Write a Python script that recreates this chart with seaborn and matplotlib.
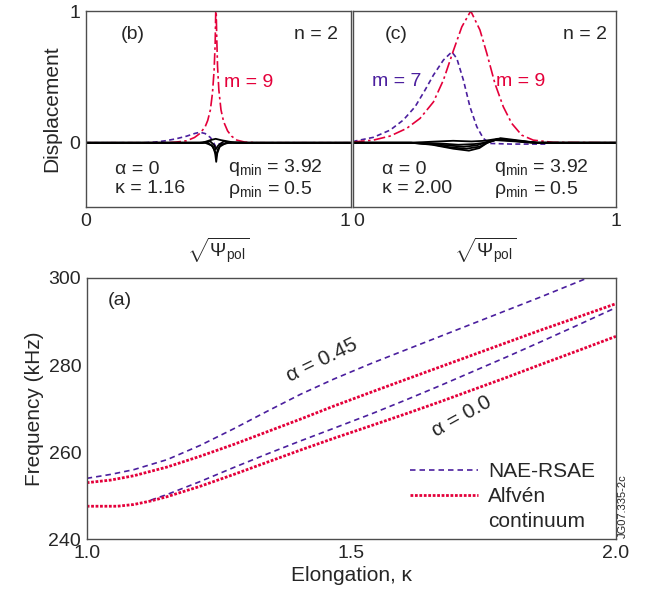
import matplotlib
matplotlib.use("Agg")
import matplotlib.pyplot as plt
import seaborn as sns
import pandas as pd
from matplotlib.lines import Line2D

# ---------------- data ----------------
# Panel (b): kappa = 1.16
b_m9_x = [0.0, 0.30, 0.34, 0.38, 0.41, 0.43, 0.45, 0.46, 0.47, 0.478, 0.484, 0.488, 0.491,
          0.494, 0.497, 0.502, 0.51, 0.52, 0.535, 0.55, 0.57, 0.60, 0.65, 1.0]
b_m9_y = [0.0, 0.0, 0.005, 0.015, 0.04, 0.07, 0.12, 0.17, 0.25, 0.38, 0.55, 0.75, 1.08,
          0.8, 0.58, 0.4, 0.25, 0.16, 0.09, 0.05, 0.02, 0.005, 0.0, 0.0]
b_m7_x = [0.0, 0.22, 0.26, 0.30, 0.34, 0.38, 0.41, 0.43, 0.45, 0.47, 0.48, 0.49, 0.50, 0.52, 1.0]
b_m7_y = [0.0, 0.0, 0.005, 0.015, 0.03, 0.05, 0.07, 0.08, 0.07, 0.04, 0.01, -0.03, -0.01, 0.0, 0.0]
b_k1_x = [0.0, 0.46, 0.48, 0.488, 0.492, 0.496, 0.505, 0.53, 1.0]
b_k1_y = [0.0, 0.0, -0.03, -0.08, -0.145, -0.08, -0.03, 0.0, 0.0]
b_k2_x = [0.0, 0.45, 0.475, 0.487, 0.492, 0.498, 0.51, 0.54, 1.0]
b_k2_y = [0.0, 0.0, -0.02, -0.06, -0.10, -0.05, -0.015, 0.0, 0.0]
b_k3_x = [0.0, 0.44, 0.47, 0.49, 0.51, 0.55, 0.60, 1.0]
b_k3_y = [0.0, 0.0, 0.02, 0.03, 0.02, 0.005, 0.0, 0.0]
b_k4_x = [0.0, 0.43, 0.47, 0.485, 0.49, 0.50, 0.52, 0.56, 1.0]
b_k4_y = [0.0, 0.0, 0.01, -0.02, -0.05, -0.02, 0.01, 0.0, 0.0]

# Panel (c): kappa = 2.00
c_m9_x = [0.0, 0.006, 0.076, 0.14, 0.203, 0.254, 0.305, 0.343, 0.381, 0.413, 0.447,
          0.482, 0.508, 0.539, 0.571, 0.603, 0.641, 0.685, 0.761, 1.0]
c_m9_y = [0.0, 0.007, 0.02, 0.051, 0.109, 0.185, 0.31, 0.476, 0.70, 0.88, 1.0,
          0.856, 0.68, 0.45, 0.273, 0.147, 0.058, 0.02, 0.003, 0.0]
c_m7_x = [0.0, 0.006, 0.076, 0.14, 0.19, 0.235, 0.273, 0.305, 0.343, 0.375, 0.394,
          0.419, 0.444, 0.47, 0.495, 0.52, 0.60, 0.742]
c_m7_y = [0.0, 0.013, 0.041, 0.096, 0.172, 0.273, 0.40, 0.514, 0.628, 0.69, 0.64,
          0.476, 0.273, 0.122, 0.033, -0.005, -0.01, -0.01]
c_k1_x = [0.0, 0.22, 0.30, 0.38, 0.44, 0.48, 0.51, 0.56, 0.62, 0.70, 1.0]
c_k1_y = [0.0, 0.0, -0.015, -0.045, -0.06, -0.04, 0.0, 0.035, 0.02, 0.0, 0.0]
c_k2_x = [0.0, 0.22, 0.30, 0.37, 0.43, 0.48, 0.51, 0.55, 0.62, 0.70, 1.0]
c_k2_y = [0.0, 0.0, -0.012, -0.035, -0.045, -0.03, 0.0, 0.03, 0.015, 0.0, 0.0]
c_k3_x = [0.0, 0.22, 0.30, 0.36, 0.42, 0.47, 0.50, 0.55, 0.62, 0.70, 1.0]
c_k3_y = [0.0, 0.0, -0.008, -0.02, -0.03, -0.02, 0.0, 0.025, 0.012, 0.0, 0.0]
c_k4_x = [0.0, 0.22, 0.30, 0.38, 0.45, 0.50, 0.55, 0.62, 0.70, 1.0]
c_k4_y = [0.0, 0.0, 0.008, 0.015, 0.01, 0.015, 0.03, 0.015, 0.0, 0.0]
c_k5_x = [0.0, 0.25, 0.35, 0.40, 0.46, 0.50, 0.54, 0.62, 0.68, 1.0]
c_k5_y = [0.0, 0.0, -0.008, -0.015, -0.01, 0.0, 0.02, 0.01, 0.0, 0.0]

# Panel (a): frequency (kHz) vs elongation kappa
kap_a45_nae = [1.0, 1.045, 1.089, 1.152, 1.215, 1.278, 1.341, 1.404, 1.467,
               1.540, 1.605, 1.668, 1.731, 1.794, 1.857, 1.932, 2.0]
frq_a45_nae = [254.0, 254.9, 256.0, 258.3, 261.6, 265.4, 269.4, 273.3, 276.8,
               280.5, 283.6, 286.6, 289.6, 292.6, 295.6, 299.3, 302.7]
kap_a45_alf = [1.0, 1.045, 1.089, 1.152, 1.215, 1.278, 1.341, 1.404, 1.467,
               1.540, 1.605, 1.668, 1.731, 1.794, 1.857, 1.930, 2.0]
frq_a45_alf = [253.0, 253.6, 254.6, 256.6, 259.1, 261.8, 264.7, 267.6, 270.6,
               273.9, 276.8, 279.6, 282.4, 285.2, 288.0, 291.1, 294.1]
kap_a00_nae = [1.121, 1.152, 1.215, 1.278, 1.341, 1.404, 1.467, 1.540, 1.605,
               1.668, 1.731, 1.794, 1.857, 1.930, 2.0]
frq_a00_nae = [249.0, 250.3, 253.3, 256.5, 259.6, 262.6, 265.5, 268.9, 272.1,
               275.3, 278.6, 281.9, 285.3, 289.3, 293.2]
kap_a00_alf = [1.0, 1.058, 1.089, 1.121, 1.152, 1.215, 1.278, 1.341, 1.404, 1.467,
               1.540, 1.605, 1.668, 1.731, 1.794, 1.857, 1.930, 2.0]
frq_a00_alf = [247.6, 247.6, 248.0, 248.8, 249.8, 252.2, 254.9, 257.7, 260.5, 263.2,
               266.2, 268.9, 271.6, 274.4, 277.2, 280.1, 283.4, 286.6]

RED = "#e4003a"
BLUE = "#4b1f9e"
SPINE = "#4d4d4d"

# ---------------- style ----------------
sns.set_theme(style="white")
plt.rcParams["font.family"] = ["Liberation Sans", "DejaVu Sans"]
plt.rcParams["mathtext.fontset"] = "custom"
plt.rcParams["mathtext.rm"] = "Liberation Sans"
plt.rcParams["mathtext.it"] = "Liberation Sans:italic"
plt.rcParams["mathtext.sf"] = "Liberation Sans"
FS = 14
FSA = 15

fig = plt.figure(figsize=(6.47, 5.93), dpi=100)
ax_b = fig.add_axes([0.1329, 0.6504, 0.4091, 0.331])
ax_c = fig.add_axes([0.5461, 0.6504, 0.4060, 0.331])
ax_a = fig.add_axes([0.1340, 0.0905, 0.8180, 0.4407])


def line(ax, x, y, **kw):
    df = pd.DataFrame({"x": x, "y": y})
    sns.lineplot(data=df, x="x", y="y", ax=ax, estimator=None, sort=False, **kw)


# ---- panel (b) ----
line(ax_b, b_m7_x, b_m7_y, color=BLUE, lw=1.2, linestyle=(0, (3, 2)))
line(ax_b, b_m9_x, b_m9_y, color=RED, lw=1.2, linestyle=(0, (7, 2, 1.5, 2)))
for xx, yy in [(b_k1_x, b_k1_y), (b_k2_x, b_k2_y), (b_k3_x, b_k3_y), (b_k4_x, b_k4_y)]:
    line(ax_b, xx, yy, color="black", lw=1.3)

# ---- panel (c) ----
line(ax_c, c_m7_x, c_m7_y, color=BLUE, lw=1.2, linestyle=(0, (3, 2)))
line(ax_c, c_m9_x, c_m9_y, color=RED, lw=1.2, linestyle=(0, (7, 2, 1.5, 2)))
for xx, yy in [(c_k1_x, c_k1_y), (c_k2_x, c_k2_y), (c_k3_x, c_k3_y),
               (c_k4_x, c_k4_y), (c_k5_x, c_k5_y)]:
    line(ax_c, xx, yy, color="black", lw=1.3)

for ax in (ax_b, ax_c):
    ax.set_xlim(0, 1)
    ax.set_ylim(-0.49, 1.0)
    ax.set_xticks([0, 1])
    ax.set_yticks([0, 1])
    ax.tick_params(length=0, labelsize=FS, pad=4)
    ax.set_xlabel(r"$\sqrt{\Psi_{\mathrm{pol}}}$", fontsize=FS, labelpad=4)
    ax.set_ylabel("")
    for s in ax.spines.values():
        s.set_color(SPINE)
        s.set_linewidth(1.0)

ax_b.set_ylabel("Displacement", fontsize=FSA, labelpad=6)
ax_b.set_xticklabels(["0", "1"])
ax_b.get_xticklabels()[1].set_horizontalalignment("right")
ax_c.set_yticklabels([])
ax_c.set_xticklabels(["0", "1"])
ax_c.get_xticklabels()[0].set_horizontalalignment("left")

# annotations (b)
ax_b.text(0.13, 0.878, "(b)", transform=ax_b.transAxes, fontsize=FS, ha="left", va="center")
ax_b.text(0.952, 0.878, "n = 2", transform=ax_b.transAxes, fontsize=FS, ha="right", va="center")
ax_b.text(0.52, 0.46, "m = 9", fontsize=FS, color=RED, ha="left", va="center")
ax_b.text(0.11, 0.195, "α = 0", transform=ax_b.transAxes, fontsize=FS, ha="left", va="center")
ax_b.text(0.11, 0.098, "κ = 1.16", transform=ax_b.transAxes, fontsize=FS, ha="left", va="center")
ax_b.text(0.536, 0.205, r"$\mathregular{q_{min}}$ = 3.92", transform=ax_b.transAxes,
          fontsize=FS, ha="left", va="center")
ax_b.text(0.536, 0.093, r"$\mathregular{\rho_{min}}$ = 0.5", transform=ax_b.transAxes,
          fontsize=FS, ha="left", va="center")

# annotations (c)
ax_c.text(0.12, 0.878, "(c)", transform=ax_c.transAxes, fontsize=FS, ha="left", va="center")
ax_c.text(0.964, 0.878, "n = 2", transform=ax_c.transAxes, fontsize=FS, ha="right", va="center")
ax_c.text(0.07, 0.465, "m = 7", fontsize=FS, color=BLUE, ha="left", va="center")
ax_c.text(0.545, 0.465, "m = 9", fontsize=FS, color=RED, ha="left", va="center")
ax_c.text(0.109, 0.195, "α = 0", transform=ax_c.transAxes, fontsize=FS, ha="left", va="center")
ax_c.text(0.109, 0.098, "κ = 2.00", transform=ax_c.transAxes, fontsize=FS, ha="left", va="center")
ax_c.text(0.536, 0.205, r"$\mathregular{q_{min}}$ = 3.92", transform=ax_c.transAxes,
          fontsize=FS, ha="left", va="center")
ax_c.text(0.536, 0.093, r"$\mathregular{\rho_{min}}$ = 0.5", transform=ax_c.transAxes,
          fontsize=FS, ha="left", va="center")

# ---- panel (a) ----
DASH_A = (0, (3.3, 2.4))
DOT_A = (0, (1.0, 0.6))
line(ax_a, kap_a45_nae, frq_a45_nae, color=BLUE, lw=1.2, linestyle=DASH_A)
line(ax_a, kap_a00_nae, frq_a00_nae, color=BLUE, lw=1.2, linestyle=DASH_A)
line(ax_a, kap_a45_alf, frq_a45_alf, color=RED, lw=2.0, linestyle=DOT_A)
line(ax_a, kap_a00_alf, frq_a00_alf, color=RED, lw=2.0, linestyle=DOT_A)

ax_a.set_xlim(1.0, 2.0)
ax_a.set_ylim(240, 300)
ax_a.set_xticks([1.0, 1.5, 2.0])
ax_a.set_xticklabels(["1.0", "1.5", "2.0"])
ax_a.set_yticks([240, 260, 280, 300])
ax_a.set_yticklabels(["240", "260", "280", "300"])
ax_a.tick_params(axis="both", direction="in", length=8.5, width=1.0, color=SPINE,
                 labelsize=FS, pad=4)
ax_a.set_xlabel("Elongation, κ", fontsize=FSA, labelpad=3)
ax_a.set_ylabel("Frequency (kHz)", fontsize=FSA, labelpad=3)
for s in ax_a.spines.values():
    s.set_color(SPINE)
    s.set_linewidth(1.0)

ax_a.text(1.04, 294.9, "(a)", fontsize=FS, ha="left", va="center")
ax_a.text(1.444, 281.0, "α = 0.45", fontsize=FSA, ha="center", va="center", rotation=26)
ax_a.text(1.708, 268.2, "α = 0.0", fontsize=FSA, ha="center", va="center", rotation=29)

handles = [Line2D([], [], color=BLUE, lw=1.2, linestyle=DASH_A),
           Line2D([], [], color=RED, lw=2.0, linestyle=DOT_A),
           Line2D([], [], color="none", lw=0)]
ax_a.legend(handles, ["NAE-RSAE", "Alfvén", "continuum"], loc="lower left",
            bbox_to_anchor=(0.579, -0.033), frameon=False, fontsize=FSA,
            handlelength=3.27, handletextpad=0.48, labelspacing=0.29, borderpad=0.3)

fig.text(623 / 647, 1 - 506 / 593, "JG07.335-2c", rotation=90, fontsize=8,
         ha="center", va="center")

fig.savefig("out.png", dpi=100)
